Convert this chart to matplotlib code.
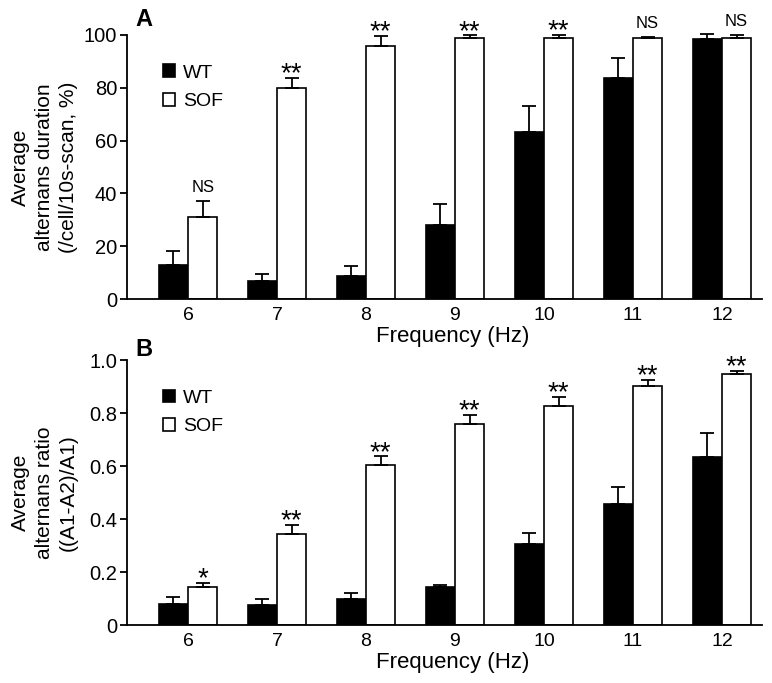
import numpy as np
import matplotlib.pyplot as plt

plt.rcParams['font.family'] = ['Liberation Sans', 'DejaVu Sans']

# data
freq = [6, 7, 8, 9, 10, 11, 12]
dur_wt = [12.7, 7.0, 8.6, 28.0, 63.4, 83.8, 98.5]
dur_wt_err = [5.5, 2.3, 4.0, 8.0, 9.8, 7.4, 1.7]
dur_sof = [31.0, 80.0, 96.0, 99.0, 99.0, 98.7, 98.7]
dur_sof_err = [6.3, 3.8, 3.5, 0.8, 0.9, 0.7, 1.4]
dur_sig = ['NS', '**', '**', '**', '**', 'NS', 'NS']

ratio_wt = [0.080, 0.075, 0.100, 0.143, 0.305, 0.456, 0.635]
ratio_wt_err = [0.025, 0.022, 0.020, 0.008, 0.044, 0.065, 0.088]
ratio_sof = [0.145, 0.343, 0.603, 0.757, 0.828, 0.902, 0.946]
ratio_sof_err = [0.012, 0.033, 0.033, 0.037, 0.031, 0.023, 0.012]
ratio_sig = ['*', '**', '**', '**', '**', '**', '**']

fig = plt.figure(figsize=(7.72, 6.83), dpi=100)
axA = fig.add_axes([0.1645, 0.5622, 0.8225, 0.3866])
axB = fig.add_axes([0.1645, 0.0849, 0.8225, 0.388])

w = 0.33


def draw_panel(ax, wt, wt_err, sof, sof_err, sig, ymax, yticks, ylabel, letter, letter_y):
    x = np.array(freq, dtype=float)
    z = np.zeros(len(freq))
    b1 = ax.bar(x - w / 2, wt, w, color='black', edgecolor='black', linewidth=1.2,
                yerr=[z, wt_err], capsize=5, error_kw=dict(elinewidth=1.3, capthick=1.3, ecolor='black'),
                label='WT', zorder=2)
    b2 = ax.bar(x + w / 2, sof, w, color='white', edgecolor='black', linewidth=1.2,
                yerr=[z, sof_err], capsize=5, error_kw=dict(elinewidth=1.3, capthick=1.3, ecolor='black'),
                label='SOF', zorder=2)
    for el in [b1.errorbar, b2.errorbar]:
        for ln in el.lines[1]:
            ln.set_clip_on(False)
        for ln in el.lines[2]:
            ln.set_clip_on(False)
    for xi, s, v, e in zip(x, sig, sof, sof_err):
        if s == 'NS':
            ax.text(xi + w / 2, v + e + ymax * 0.022, s, ha='center', va='bottom', fontsize=12)
        else:
            ax.text(xi + w / 2, v + e - ymax * 0.035, s, ha='center', va='bottom', fontsize=20)
    ax.set_xlim(5.315, 12.45)
    ax.set_ylim(0, ymax)
    ax.set_yticks(yticks)
    ax.set_xticks(freq)
    ax.set_xticklabels([str(f) for f in freq])
    ax.tick_params(axis='x', length=0, pad=6, labelsize=14)
    ax.tick_params(axis='y', length=5, width=1.3, direction='out', labelsize=14.5, pad=2)
    ax.spines['top'].set_visible(False)
    ax.spines['right'].set_visible(False)
    ax.spines['left'].set_linewidth(1.3)
    ax.spines['bottom'].set_linewidth(1.3)
    ax.set_xlabel('Frequency (Hz)', fontsize=16)
    ax.xaxis.set_label_coords(0.5126, -0.103)
    ax.set_ylabel(ylabel, fontsize=15, linespacing=1.35)
    ax.yaxis.set_label_coords(-0.077, 0.5)
    ax.legend(handles=[b1, b2], loc='upper left', bbox_to_anchor=(0.045, 0.918), frameon=False,
              fontsize=14, handlelength=0.62, handleheight=0.62, handletextpad=0.4,
              labelspacing=0.6, borderaxespad=0)
    ax.text(0.013, letter_y, letter, transform=ax.transAxes, fontsize=17, fontweight='bold',
            ha='left', va='bottom')


draw_panel(axA, dur_wt, dur_wt_err, dur_sof, dur_sof_err, dur_sig, 100,
           [0, 20, 40, 60, 80, 100], 'Average\nalternans duration\n(/cell/10s-scan, %)', 'A', 1.015)
draw_panel(axB, ratio_wt, ratio_wt_err, ratio_sof, ratio_sof_err, ratio_sig, 1.0,
           [0, 0.2, 0.4, 0.6, 0.8, 1.0], 'Average\nalternans ratio\n((A1-A2)/A1)', 'B', 0.995)
axB.set_yticklabels(['0', '0.2', '0.4', '0.6', '0.8', '1.0'])
axA.set_yticklabels(['0', '20', '40', '60', '80', '100'])

fig.savefig('out.png', dpi=100)
